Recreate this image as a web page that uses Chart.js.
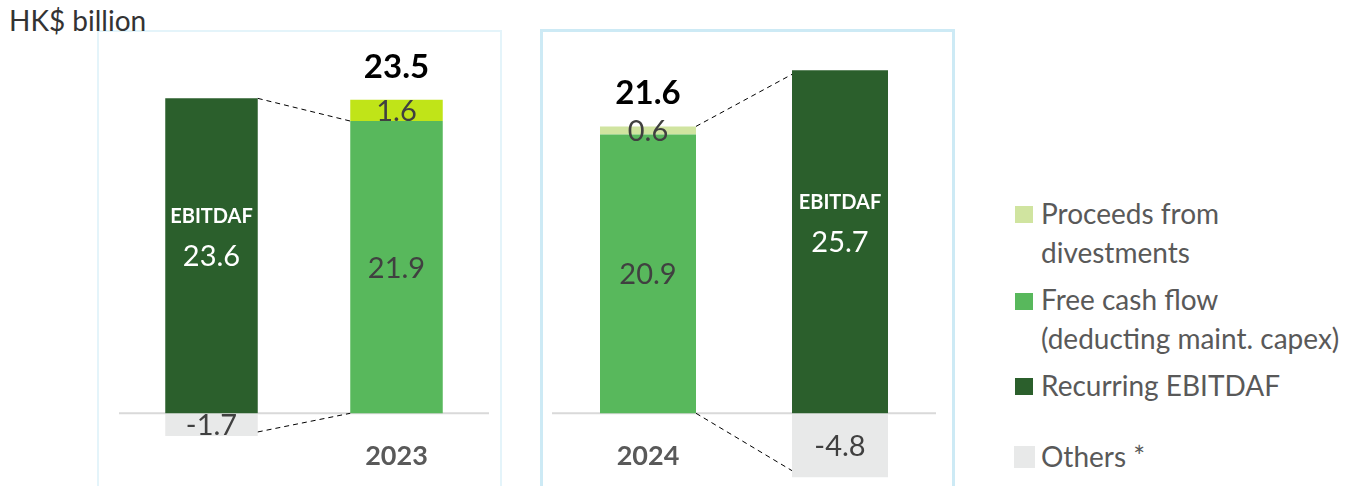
<!DOCTYPE html>
<html>
<head>
<meta charset="utf-8">
<script src="https://cdn.jsdelivr.net/npm/chart.js@4.4.1/dist/chart.umd.min.js"></script>
<style>
  html, body { margin: 0; padding: 0; background: #fff; }
  body { width: 1368px; height: 486px; position: relative; overflow: hidden; font-family: Lato, "Open Sans", sans-serif; }
  .panel { position: absolute; box-sizing: border-box; }
  #p1 { left: 97px; top: 30px; width: 405px; height: 470px; border: 2px solid #e4f4fa; }
  #p2 { left: 540px; top: 29px; width: 415px; height: 470px; border: 3px solid #cdeaf5; }
  .cw { position: absolute; top: 0; height: 486px; }
  #c1w { left: 97px; width: 405px; }
  #c2w { left: 540px; width: 415px; }
  #title { position: absolute; left: 9px; top: 2px; font-size: 28px; line-height: 36px; color: #333; }
  .leg { position: absolute; left: 1015px; font-size: 28px; color: #595959; line-height: 39px; }
  .sw { position: absolute; left: 0; width: 18px; height: 17px; }
  .lt { position: absolute; left: 26px; white-space: nowrap; }
</style>
</head>
<body>
<div class="panel" id="p1"></div>
<div class="panel" id="p2"></div>
<div id="title">HK$ billion</div>
<div class="cw" id="c1w"><canvas id="c1"></canvas></div>
<div class="cw" id="c2w"><canvas id="c2"></canvas></div>
<div id="legend"></div>
<script>
// ---- data ----
const categories = ['', '2023', '2024', ''];
const recurringEbitdaf = [23.6, null, null, 25.7];
const freeCashFlow = [null, 21.9, 20.9, null];
const proceeds = [null, 1.6, 0.6, null];
const others = [-1.7, null, null, -4.8];
const totals = [null, 23.5, 21.6, null];
const legendLabels = ['Proceeds from\ndivestments', 'Free cash flow\n(deducting maint. capex)', 'Recurring EBITDAF', 'Others *'];

// ---- styles ----
const C_EBIT = '#2b5f2c';
const C_FCF = '#58b85c';
const C_PROC = ['#c0e418', '#d0e4a0'];
const C_OTH = '#e8e9e9';
const FONT = 'Lato, "Open Sans", sans-serif';

// legend (HTML)
const legTops = [194, 280, 366, 437];
const legCols = [C_PROC[1], C_FCF, C_EBIT, C_OTH];
const legSw = [206, 293, 378, 446];
const lg = document.getElementById('legend');
legendLabels.forEach((t, i) => {
  const d = document.createElement('div');
  d.className = 'leg';
  d.style.top = legTops[i] + 'px';
  const s = document.createElement('div');
  s.className = 'sw';
  s.style.background = legCols[i];
  s.style.top = (legSw[i] - legTops[i]) + 'px';
  if (i === 3) { s.style.width = '21px'; s.style.height = '22px'; s.style.left = '-1px'; }
  const tx = document.createElement('div');
  tx.className = 'lt';
  tx.innerHTML = t.replace('\n', '<br>');
  d.appendChild(s); d.appendChild(tx);
  lg.appendChild(d);
});

function makeChart(id, idx, procColor, padL, padR, connectors) {
  const pick = arr => idx.map(i => arr[i]);
  const labs = pick(categories);
  const tot = pick(totals);
  const ds = [
    { label: 'Recurring EBITDAF', data: pick(recurringEbitdaf), backgroundColor: C_EBIT, vText: '#fff', tag: true },
    { label: 'Free cash flow', data: pick(freeCashFlow), backgroundColor: C_FCF, vText: '#404040' },
    { label: 'Proceeds from divestments', data: pick(proceeds), backgroundColor: procColor, vText: '#404040' },
    { label: 'Others', data: pick(others), backgroundColor: C_OTH, vText: '#404040' }
  ].map(d => Object.assign(d, { stack: 's', categoryPercentage: 1, barPercentage: 0.5, borderWidth: 0 }));

  const plugin = {
    id: 'deco',
    beforeDatasetsDraw(chart) {
      const { ctx, chartArea, scales } = chart;
      const y0 = scales.y.getPixelForValue(0);
      ctx.save();
      ctx.strokeStyle = '#d9d9d9';
      ctx.lineWidth = 2;
      ctx.beginPath();
      ctx.moveTo(chartArea.left, y0);
      ctx.lineTo(chartArea.right, y0);
      ctx.stroke();
      ctx.restore();
    },
    afterDatasetsDraw(chart) {
      const { ctx, scales } = chart;
      ctx.save();
      ctx.textAlign = 'center';
      ctx.textBaseline = 'middle';
      // segment labels
      chart.data.datasets.forEach((d, di) => {
        const meta = chart.getDatasetMeta(di);
        meta.data.forEach((el, i) => {
          const v = d.data[i];
          if (v === null || v === undefined) return;
          const cy = (el.y + el.base) / 2;
          ctx.fillStyle = d.vText;
          ctx.font = '29px ' + FONT;
          ctx.fillText(v.toFixed(1), el.x, cy + 1);
          if (d.tag) {
            ctx.font = 'bold 20px ' + FONT;
            ctx.fillText('EBITDAF', el.x, cy - 39);
          }
        });
      });
      // totals & category labels
      labs.forEach((lab, i) => {
        const x = scales.x.getPixelForValue(i);
        if (tot[i] !== null) {
          ctx.fillStyle = '#000';
          ctx.font = 'bold 33px ' + FONT;
          const top = scales.y.getPixelForValue(tot[i]);
          ctx.fillText(tot[i].toFixed(1), x, top - 32);
        }
        if (lab) {
          ctx.fillStyle = '#595959';
          ctx.font = 'bold 27px ' + FONT;
          ctx.fillText(lab, x, 456);
        }
      });
      // dashed connectors
      const barHalf = chart.getDatasetMeta(0).data[0].width / 2;
      ctx.strokeStyle = '#000';
      ctx.lineWidth = 1;
      ctx.setLineDash([5, 4]);
      connectors.forEach(c => {
        ctx.beginPath();
        ctx.moveTo(scales.x.getPixelForValue(0) + barHalf, scales.y.getPixelForValue(c[0]));
        ctx.lineTo(scales.x.getPixelForValue(1) - barHalf, scales.y.getPixelForValue(c[1]));
        ctx.stroke();
      });
      ctx.restore();
    }
  };

  return new Chart(document.getElementById(id), {
    type: 'bar',
    data: { labels: labs, datasets: ds },
    options: {
      responsive: true,
      maintainAspectRatio: false,
      animation: false,
      layout: { padding: { left: padL, right: padR, top: 53, bottom: 6 } },
      plugins: { legend: { display: false }, tooltip: { enabled: false } },
      scales: {
        x: { stacked: true, display: false },
        y: { stacked: true, display: false, min: -5, max: 27 }
      }
    },
    plugins: [plugin]
  });
}

makeChart('c1', [0, 1], C_PROC[0], 22, 13, [[23.6, 21.9], [-1.4, 0]]);
makeChart('c2', [2, 3], C_PROC[1], 12, 19, [[21.5, 25.4], [0, -4.3]]);
</script>
</body>
</html>
